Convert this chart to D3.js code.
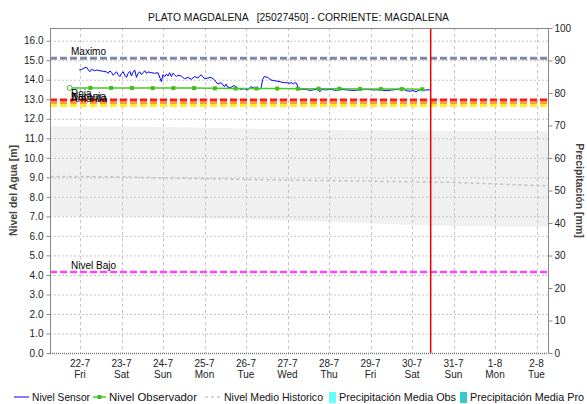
<!DOCTYPE html>
<html><head><meta charset="utf-8">
<script src="https://cdn.jsdelivr.net/npm/d3@7"></script>
<style>body{margin:0;background:#fff}svg{display:block;font-family:"Liberation Sans",Arial,sans-serif}</style>
</head><body><svg id="c" width="587" height="404"></svg>
<script>
const title = "PLATO MAGDALENA   [25027450] - CORRIENTE: MAGDALENA";
const yLabelLeft = "Nivel del Agua [m]";
const yLabelRight = "Precipitación [mm]";
const baseDate = "2022-07-22";
// days since 22-7 00:00
const sensorDays = [-0.02,0.04,0.10,0.16,0.20,0.24,0.28,0.35,0.40,0.48,0.56,0.64,0.68,0.72,0.76,0.80,0.84,0.88,0.92,0.96,1.00,1.04,1.08,1.12,1.16,1.20,1.24,1.28,1.32,1.36,1.40,1.44,1.48,1.52,1.56,1.60,1.64,1.72,1.80,1.88,1.96,2.00,2.04,2.08,2.12,2.16,2.20,2.24,2.28,2.32,2.36,2.44,2.52,2.60,2.68,2.76,2.84,2.92,3.00,3.08,3.16,3.24,3.32,3.40,3.48,3.52,3.56,3.64,3.72,3.80,3.88,3.96,4.04,4.12,4.20,4.28,4.36,4.40,4.44,4.52,4.60,4.68,4.82,4.90,4.98,5.06,5.10,5.14,5.18,5.22,5.26,5.34,5.46,5.54,5.62,5.70,5.74,5.78,5.82,5.94,6.02,6.10,6.18,6.26,6.42,6.58,6.74,6.90,7.06,7.22,7.38,7.54,7.70,7.78,7.82,7.86,7.94,8.02,8.10,8.18,8.26,8.34,8.43];
const sensorLevel = [14.50,14.53,14.60,14.64,14.50,14.41,14.53,14.46,14.50,14.46,14.43,14.40,14.33,14.45,14.38,14.23,14.33,14.40,14.26,14.16,14.33,14.41,14.23,14.12,14.33,14.43,14.19,14.40,14.50,14.12,14.33,14.40,14.26,14.36,14.46,14.33,14.40,14.36,14.33,14.36,13.90,14.26,14.16,14.29,14.19,14.36,14.16,14.33,14.26,14.16,14.23,14.19,14.05,14.12,14.02,14.16,14.09,14.26,14.05,14.09,14.12,13.99,13.78,13.85,13.64,13.78,13.61,13.61,13.71,13.56,13.51,13.54,13.48,13.64,13.56,13.54,13.54,14.02,14.16,14.12,13.99,13.95,13.90,13.85,13.85,13.82,13.85,13.78,13.85,13.82,13.51,13.51,13.50,13.45,13.48,13.51,13.48,13.38,13.50,13.48,13.51,13.48,13.45,13.51,13.48,13.45,13.48,13.51,13.48,13.48,13.44,13.48,13.51,13.59,13.48,13.44,13.41,13.44,13.39,13.48,13.44,13.48,13.48];
const observerDays = [-0.25,0.25,0.75,1.25,1.75,2.25,2.75,3.25,3.75,4.25,4.75,5.25,5.75,6.25,6.75,7.25,7.75,8.25];
const observerLevel = [13.58,13.58,13.58,13.58,13.57,13.57,13.57,13.56,13.55,13.55,13.55,13.54,13.54,13.54,13.53,13.52,13.52,13.51];
const histDays = [-1,0,1,2,3,4,5,6,7,8,9,10,11,12];
const histMean = [9.05,9.04,9.02,8.97,8.93,8.89,8.86,8.83,8.80,8.77,8.74,8.66,8.58,8.55];
const histMax = [11.60,11.60,11.60,11.58,11.54,11.50,11.46,11.42,11.40,11.38,11.36,11.36,11.36,11.36];
const histMin = [7.00,7.00,6.99,6.97,6.90,6.85,6.78,6.72,6.63,6.57,6.51,6.49,6.48,6.48];
const precipObsDays = [];
const precipObs = [];
const precipProDays = [];
const precipPro = [];
const thresholdNames = ["Maximo","Roja","Naranja","Amarilla","Nivel Bajo"];
const thresholdValues = [15.1,12.96,12.83,12.68,4.15];
const thresholdColors = ["#7f86a9","#ff1a1a","#ff9a40","#ffee22","#ff44ff"];
const nowDay = 8.45;
const leftTicks = d3.range(0,16.01,1);
const rightTicks = d3.range(0,100.1,10);
const legendNames = ["Nivel Sensor","Nivel Observador","Nivel Medio Historico","Precipitación Media Obs","Precipitación Media Pro"];

const svg = d3.select("#c");
const L=50,R=548,T=28,B=353;
const base = new Date(baseDate+"T00:00:00");
const toDate = d => new Date(base.getTime()+d*864e5);
const x = d3.scaleTime().domain([toDate(-0.723), toDate(11.277)]).range([L,R]);
const y = d3.scaleLinear().domain([0,16.65]).range([B,T]);
const y2 = d3.scaleLinear().domain([0,100]).range([B,T]);

svg.append("defs").append("clipPath").attr("id","cp").append("rect").attr("x",L).attr("y",T).attr("width",R-L).attr("height",B-T);
const plot = svg.append("g").attr("clip-path","url(#cp)");

// historic band
const band = histDays.map((d,i)=>({t:toDate(d),lo:histMin[i],hi:histMax[i],m:histMean[i]}));
plot.append("path").datum(band).attr("fill","#f0f0f0")
  .attr("d",d3.area().x(d=>x(d.t)).y0(d=>y(d.lo)).y1(d=>y(d.hi)));

// grid
const dayTicks = d3.timeDay.range(toDate(0), toDate(11.5));
plot.selectAll(".hg").data(leftTicks).join("line").attr("x1",L).attr("x2",R)
  .attr("y1",d=>y(d)+0.5).attr("y2",d=>y(d)+0.5).attr("stroke","#c4c4c4").attr("stroke-dasharray","2,2");
plot.selectAll(".vg").data(dayTicks).join("line").attr("y1",T).attr("y2",B)
  .attr("x1",d=>Math.round(x(d))+0.5).attr("x2",d=>Math.round(x(d))+0.5).attr("stroke","#c4c4c4").attr("stroke-dasharray","3,3");

// historic mean
plot.append("path").datum(band).attr("fill","none").attr("stroke","#c0c0c0").attr("stroke-width",1.5)
  .attr("stroke-dasharray","3,3").attr("d",d3.line().x(d=>x(d.t)).y(d=>y(d.m)));

// precipitation bars (none in this period)
plot.selectAll(".po").data(precipObsDays).join("rect").attr("fill","#66ffff")
  .attr("x",(d)=>x(toDate(d))-3).attr("width",6).attr("y",(d,i)=>y2(precipObs[i])).attr("height",(d,i)=>B-y2(precipObs[i]));
plot.selectAll(".pp").data(precipProDays).join("rect").attr("fill","#33cccc")
  .attr("x",(d)=>x(toDate(d))-3).attr("width",6).attr("y",(d,i)=>y2(precipPro[i])).attr("height",(d,i)=>B-y2(precipPro[i]));

// thresholds
thresholdValues.forEach((v,i)=>{
  plot.append("line").attr("x1",L).attr("x2",R).attr("y1",y(v)).attr("y2",y(v))
    .attr("stroke",thresholdColors[i]).attr("stroke-width",i===4?2.5:3).attr("stroke-dasharray","7,3");
});

// sensor
const sData = sensorDays.map((d,i)=>({t:toDate(d),v:sensorLevel[i]}));
plot.append("path").datum(sData).attr("fill","none").attr("stroke","#0000ff").attr("stroke-width",1)
  .attr("d",d3.line().x(d=>x(d.t)).y(d=>y(d.v)));

// observer
const oData = observerDays.map((d,i)=>({t:toDate(d),v:observerLevel[i]}));
plot.append("path").datum(oData).attr("fill","none").attr("stroke","#44cc22").attr("stroke-width",1.5)
  .attr("d",d3.line().x(d=>x(d.t)).y(d=>y(d.v)));
plot.selectAll(".om").data(oData.slice(1)).join("rect").attr("fill","#44bb22")
  .attr("x",d=>x(d.t)-2).attr("y",d=>y(d.v)-2).attr("width",4).attr("height",4);
plot.append("circle").attr("cx",x(oData[0].t)).attr("cy",y(oData[0].v)).attr("r",2.5)
  .attr("fill","#fff").attr("stroke","#44bb22").attr("stroke-width",1);

// now line
plot.append("line").attr("x1",x(toDate(nowDay))).attr("x2",x(toDate(nowDay))).attr("y1",T).attr("y2",B)
  .attr("stroke","#ee0000").attr("stroke-width",1.5);

// threshold labels
const tl = svg.append("g").attr("font-size",10).attr("fill","#000");
thresholdValues.forEach((v,i)=>{
  tl.append("text").attr("x",L+21).attr("y",y(v)-3).text(thresholdNames[i]);
});

// axes frame
svg.append("line").attr("x1",L).attr("x2",R).attr("y1",T+0.5).attr("y2",T+0.5).attr("stroke","#888");
svg.append("line").attr("x1",L+0.5).attr("x2",L+0.5).attr("y1",T).attr("y2",B).attr("stroke","#888");
svg.append("line").attr("x1",R+0.5).attr("x2",R+0.5).attr("y1",T).attr("y2",B).attr("stroke","#888");
svg.append("line").attr("x1",L).attr("x2",R).attr("y1",B+0.5).attr("y2",B+0.5).attr("stroke","#777").attr("stroke-width",1.5).attr("stroke-dasharray","1,1");

// left axis
const gl = svg.append("g").attr("transform",`translate(${L+0.5},0)`)
  .call(d3.axisLeft(y).tickValues(leftTicks).tickFormat(d3.format(".1f")).tickSize(4).tickPadding(3));
gl.select(".domain").remove();
gl.selectAll("line").attr("stroke","#888");
gl.selectAll("text").attr("font-size",10).attr("font-family","Liberation Sans, Arial").attr("fill","#222");

// right axis
const gr = svg.append("g").attr("transform",`translate(${R+0.5},0)`)
  .call(d3.axisRight(y2).tickValues(rightTicks).tickFormat(d3.format("d")).tickSize(4).tickPadding(2));
gr.select(".domain").remove();
gr.selectAll("line").attr("stroke","#888");
gr.selectAll("text").attr("font-size",10).attr("font-family","Liberation Sans, Arial").attr("fill","#222");

// x axis labels
const fmt1 = d3.timeFormat("%-d-%-m"), fmt2 = d3.timeFormat("%a");
const gx = svg.append("g").attr("font-size",10).attr("fill","#222").attr("text-anchor","middle");
dayTicks.forEach(d=>{
  gx.append("text").attr("x",x(d)).attr("y",367).text(fmt1(d));
  gx.append("text").attr("x",x(d)).attr("y",378).text(fmt2(d));
});

// title
svg.append("text").attr("x",148).attr("y",21).attr("font-size",11.5)
  .attr("textLength",301).attr("lengthAdjust","spacingAndGlyphs")
  .attr("xml:space","preserve").style("white-space","pre").attr("fill","#111").text(title);

// axis titles
svg.append("text").attr("transform",`translate(17,${(T+B)/2}) rotate(-90)`).attr("text-anchor","middle")
  .attr("font-size",10.5).attr("font-weight","bold").attr("fill","#444").text(yLabelLeft);
svg.append("text").attr("transform",`translate(576,${(T+B)/2}) rotate(90)`).attr("text-anchor","middle")
  .attr("font-size",10.5).attr("font-weight","bold").attr("fill","#444").text(yLabelRight);

// legend
const lg = svg.append("g").attr("font-size",11).attr("fill","#111");
const ly = 397;
const addText = (xx, w, s) => lg.append("text").attr("x",xx).attr("y",ly+4)
  .attr("textLength",w).attr("lengthAdjust","spacingAndGlyphs").text(s);
lg.append("line").attr("x1",14).attr("x2",29).attr("y1",ly).attr("y2",ly).attr("stroke","#0000ff");
addText(32, 58, legendNames[0]);
lg.append("line").attr("x1",93).attr("x2",106).attr("y1",ly).attr("y2",ly).attr("stroke","#44cc22").attr("stroke-width",1.5);
lg.append("rect").attr("x",97.5).attr("y",ly-2).attr("width",4).attr("height",4).attr("fill","#44bb22");
addText(109, 88, legendNames[1]);
lg.append("line").attr("x1",205).attr("x2",221).attr("y1",ly).attr("y2",ly).attr("stroke","#c8c8c8").attr("stroke-width",1.5).attr("stroke-dasharray","3,3");
addText(224, 99, legendNames[2]);
lg.append("rect").attr("x",329).attr("y",ly-5).attr("width",7).attr("height",11).attr("fill","#66ffff");
addText(339, 117, legendNames[3]);
lg.append("rect").attr("x",460).attr("y",ly-5).attr("width",7).attr("height",11).attr("fill","#33cccc");
addText(470, 114, legendNames[4]);
</script></body></html>
